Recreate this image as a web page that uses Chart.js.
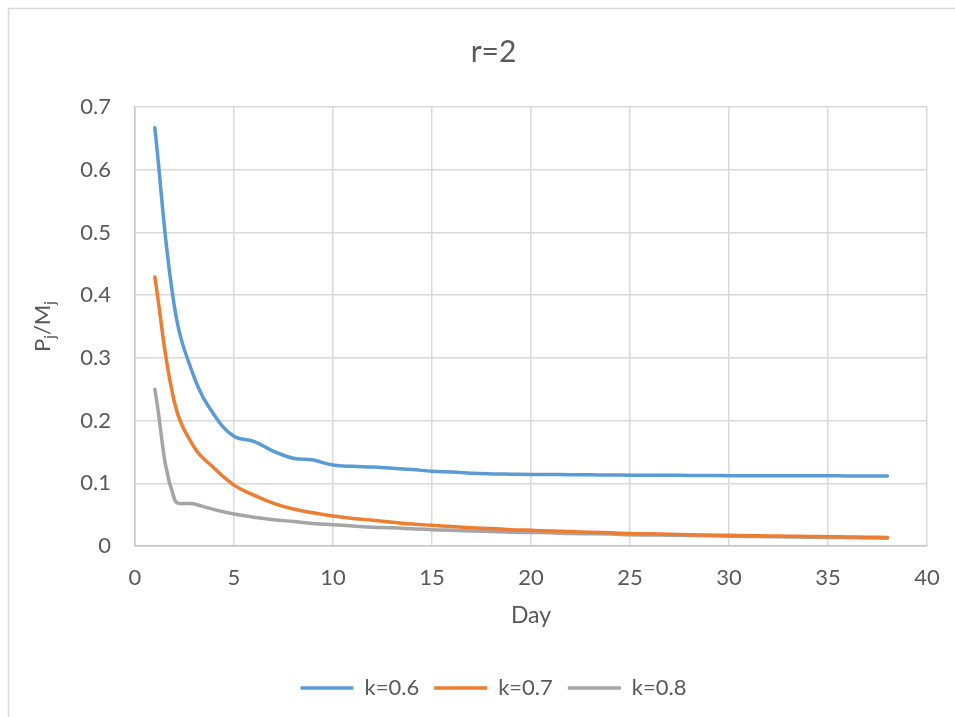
<!DOCTYPE html>
<html>
<head>
<meta charset="utf-8">
<script src="https://cdn.jsdelivr.net/npm/chart.js@4.4.0/dist/chart.umd.min.js"></script>
<style>
  html, body { margin: 0; padding: 0; background: #fff; overflow: hidden; }
  #wrap { position: relative; width: 972px; height: 717px; }
</style>
</head>
<body>
<div id="wrap"><canvas id="myChart"></canvas></div>
<script>
var days = [1, 2, 3, 4, 5, 6, 7, 8, 9, 10, 11, 12, 13, 14, 15, 16, 17, 18, 19, 20,
	21, 22, 23, 24, 25, 26, 27, 28, 29, 30, 31, 32, 33, 34, 35, 36, 37, 38];

// k=0.6
var k06 = [0.667, 0.380, 0.268, 0.209, 0.175, 0.167, 0.151, 0.140, 0.137, 0.129,
	0.127, 0.126, 0.124, 0.122, 0.119, 0.118, 0.116, 0.115, 0.1145, 0.114,
	0.114, 0.1138, 0.1135, 0.1132, 0.113, 0.113, 0.1128, 0.1126, 0.1124, 0.1122,
	0.1121, 0.112, 0.112, 0.112, 0.1119, 0.1118, 0.1117, 0.1116];
// k=0.7
var k07 = [0.429, 0.228, 0.157, 0.124, 0.097, 0.081, 0.068, 0.059, 0.053, 0.048,
	0.044, 0.041, 0.038, 0.035, 0.033, 0.031, 0.029, 0.028, 0.026, 0.025,
	0.024, 0.023, 0.022, 0.021, 0.020, 0.0194, 0.0187, 0.018, 0.0175, 0.017,
	0.0165, 0.016, 0.0156, 0.0152, 0.0148, 0.0144, 0.014, 0.0137];
// k=0.8
var k08 = [0.250, 0.074, 0.067, 0.058, 0.051, 0.046, 0.042, 0.039, 0.036, 0.034,
	0.032, 0.030, 0.029, 0.0275, 0.026, 0.025, 0.024, 0.023, 0.022, 0.0215,
	0.021, 0.020, 0.0195, 0.019, 0.018, 0.0176, 0.0172, 0.0167, 0.0162, 0.0157,
	0.0153, 0.0149, 0.0145, 0.0141, 0.0136, 0.0132, 0.0128, 0.0124];

var seriesNames = ["k=0.6", "k=0.7", "k=0.8"];
var xTickLabels = ["0", "5", "10", "15", "20", "25", "30", "35", "40"];
var yTickLabels = ["0", "0.1", "0.2", "0.3", "0.4", "0.5", "0.6", "0.7"];

var textColor = "#595959";
var gridColor = "#d9d9d9";
var fontFam = "Lato, 'Open Sans', sans-serif";

function pts(vals) {
	return days.map(function(d, i) { return { x: d, y: vals[i] }; });
}

function line(label, vals, color) {
	return {
		label: label,
		data: pts(vals),
		borderColor: color,
		backgroundColor: color,
		borderWidth: 3.5,
		borderCapStyle: "round",
		pointRadius: 0,
		tension: 0.4,
		fill: false
	};
}

// outer chart border (cropped on right/bottom like the original)
// also nudge title + legend to the centre of the full (uncropped) chart
var frame = {
	id: "frame",
	afterLayout: function(chart) {
		var dx = 26;
		[chart.titleBlock, chart.legend].forEach(function(b) {
			if (b) { b.left += dx; b.right += dx; }
		});
	},
	beforeDraw: function(chart) {
		var c = chart.ctx;
		c.save();
		c.strokeStyle = gridColor;
		c.lineWidth = 1.5;
		c.strokeRect(8.5, 8.5, chart.width + 20, chart.height + 20);
		c.restore();
	}
};

// y title with subscripts: P_j/M_j
var yTitle = {
	id: "yTitle",
	afterDraw: function(chart) {
		var c = chart.ctx;
		var a = chart.chartArea;
		var parts = [["P", 0], ["j", 1], ["/M", 0], ["j", 1]];
		var big = "22px " + fontFam, small = "15px " + fontFam;
		c.save();
		var w = 0;
		parts.forEach(function(p) {
			c.font = p[1] ? small : big;
			w += c.measureText(p[0]).width;
		});
		c.translate(50, (a.top + a.bottom) / 2);
		c.rotate(-Math.PI / 2);
		c.fillStyle = textColor;
		c.textBaseline = "alphabetic";
		var x = -w / 2;
		parts.forEach(function(p) {
			c.font = p[1] ? small : big;
			c.fillText(p[0], x, p[1] ? 5 : 0);
			x += c.measureText(p[0]).width;
		});
		c.restore();
	}
};

var ctx = document.getElementById("myChart").getContext("2d");
var myChart = new Chart(ctx, {
	type: "line",
	data: {
		datasets: [
			line(seriesNames[0], k06, "#5b9bd5"),
			line(seriesNames[1], k07, "#ed7d31"),
			line(seriesNames[2], k08, "#a5a5a5")
		]
	},
	options: {
		responsive: true,
		maintainAspectRatio: false,
		animation: false,
		layout: { padding: { left: 8, right: 45, top: 8, bottom: 8 } },
		plugins: {
			title: {
				display: true,
				text: "r=2",
				color: textColor,
				font: { family: fontFam, size: 30, weight: "normal" },
				padding: { top: 26, bottom: 37 }
			},
			legend: {
				position: "bottom",
				labels: {
					usePointStyle: true,
					pointStyle: "line",
					pointStyleWidth: 53,
					color: textColor,
					font: { family: fontFam, size: 22 },
					padding: 15
				}
			},
			tooltip: { enabled: false }
		},
		scales: {
			x: {
				type: "linear",
				min: 0,
				max: 40,
				afterFit: function(s) { s.height = 116; },
				ticks: {
					stepSize: 5,
					color: textColor,
					font: { family: fontFam, size: 22 },
					padding: 19,
					callback: function(v, i) { return xTickLabels[i]; }
				},
				grid: { color: gridColor, lineWidth: 1.5, drawTicks: false },
				border: { color: "#c8c8c8", width: 1.5 },
				title: {
					display: true,
					text: "Day",
					color: textColor,
					font: { family: fontFam, size: 23 },
					padding: { top: 4, bottom: 33 }
				}
			},
			y: {
				min: 0,
				max: 0.7,
				afterFit: function(s) { s.width = 127; },
				ticks: {
					stepSize: 0.1,
					color: textColor,
					font: { family: fontFam, size: 22 },
					padding: 24,
					callback: function(v, i) { return yTickLabels[i]; }
				},
				grid: { color: gridColor, lineWidth: 1.5, drawTicks: false },
				border: { color: "#c8c8c8", width: 1.5 }
			}
		}
	},
	plugins: [frame, yTitle]
});
</script>
</body>
</html>
